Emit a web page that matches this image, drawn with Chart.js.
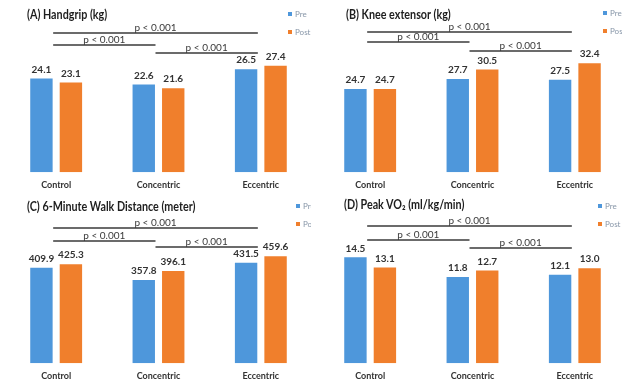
<!DOCTYPE html>
<html>
<head>
<meta charset="utf-8">
<script src="https://cdn.jsdelivr.net/npm/chart.js@4.4.1/dist/chart.umd.min.js"></script>
<style>
  body { margin: 0; background: #fff; }
  #wrap { position: relative; width: 622px; height: 383px; overflow: hidden; }
  .panel { position: absolute; width: 311px; height: 192px; overflow: hidden; }
  .panel canvas { position: absolute; left: 0; top: 0; }
  .title { position: absolute; font: bold 12.5px Lato, sans-serif; color: #1e1e1e; white-space: nowrap; transform: scaleX(0.86); transform-origin: 0 0; }
  .legend { position: absolute; font: 8px Lato, sans-serif; color: #8796a8; line-height: 10px; white-space: nowrap; }
  .legend span { display: inline-block; width: 4px; height: 4px; margin-right: 3px; vertical-align: 1px; }
  .legend div { margin-bottom: 8px; }
</style>
</head>
<body>
<div id="wrap">
  <div class="panel" style="left:0;top:0">
    <canvas id="chartA" width="320" height="199"></canvas>
    <div class="title" style="left:27px;top:7px">(A) Handgrip (kg)</div>
    <div class="legend" style="left:288px;top:9px"><div><span style="background:#4e97db"></span>Pre</div><div><span style="background:#f07f2c"></span>Post</div></div>
  </div>
  <div class="panel" style="left:311px;top:0">
    <canvas id="chartB" width="320" height="199"></canvas>
    <div class="title" style="left:35px;top:7px">(B) Knee extensor (kg)</div>
    <div class="legend" style="left:292px;top:8px"><div><span style="background:#4e97db"></span>Pre</div><div><span style="background:#f07f2c"></span>Post</div></div>
  </div>
  <div class="panel" style="left:0;top:191px">
    <canvas id="chartC" width="320" height="199"></canvas>
    <div class="title" style="left:27px;top:8px">(C) 6-Minute Walk Distance (meter)</div>
    <div class="legend" style="left:296px;top:10px"><div><span style="background:#4e97db"></span>Pre</div><div><span style="background:#f07f2c"></span>Post</div></div>
  </div>
  <div class="panel" style="left:311px;top:191px">
    <canvas id="chartD" width="320" height="199"></canvas>
    <div class="title" style="left:33px;top:6px">(D) Peak VO₂ (ml/kg/min)</div>
    <div class="legend" style="left:287px;top:10px"><div><span style="background:#4e97db"></span>Pre</div><div><span style="background:#f07f2c"></span>Post</div></div>
  </div>
</div>
<script>
const groups = ['Control', 'Concentric', 'Eccentric'];

const handgripPre = [24.1, 22.6, 26.5];
const handgripPost = [23.1, 21.6, 27.4];
const kneePre = [24.7, 27.7, 27.5];
const kneePost = [24.7, 30.5, 32.4];
const walkPre = [409.9, 357.8, 431.5];
const walkPost = [425.3, 396.1, 459.6];
const vo2Pre = [14.5, 11.8, 12.1];
const vo2Post = [13.1, 12.7, 13.0];

// pairwise comparisons drawn as lines above the bars
const comparisons = [[0, 2], [0, 1], [1, 2]];
const pLabels = ['p < 0.001', 'p < 0.001', 'p < 0.001'];

const preColor = '#4e97db';
const postColor = '#f07f2c';

const valueLabels = {
  id: 'valueLabels',
  afterDatasetsDraw(chart) {
    const ctx = chart.ctx;
    ctx.save();
    ctx.font = 'bold 10px Lato, sans-serif';
    ctx.fillStyle = '#333';
    ctx.textAlign = 'center';
    ctx.textBaseline = 'bottom';
    chart.data.datasets.forEach((ds, i) => {
      chart.getDatasetMeta(i).data.forEach((bar, j) => {
        ctx.fillText(ds.data[j].toFixed(1), bar.x, bar.y - 4);
      });
    });
    ctx.restore();
  }
};

const pBrackets = {
  id: 'pBrackets',
  afterDraw(chart, args, opts) {
    const ctx = chart.ctx;
    const x = chart.scales.x;
    ctx.save();
    ctx.strokeStyle = '#3a3a3a';
    ctx.lineWidth = 1.4;
    ctx.fillStyle = '#3a3a3a';
    ctx.font = '10px Lato, sans-serif';
    ctx.textAlign = 'center';
    ctx.textBaseline = 'bottom';
    comparisons.forEach((pair, k) => {
      const x1 = x.getPixelForValue(pair[0]) - 3;
      const x2 = x.getPixelForValue(pair[1]) - 3;
      const y = opts.levels[k];
      ctx.beginPath();
      ctx.moveTo(x1, y);
      ctx.lineTo(x2, y);
      ctx.stroke();
      ctx.fillText(pLabels[k], (x1 + x2) / 2, y);
    });
    ctx.restore();
  }
};

function makePanel(id, pre, post, yMax, padLeft, levels) {
  return new Chart(document.getElementById(id), {
    type: 'bar',
    data: {
      labels: groups,
      datasets: [
        { label: 'Pre', data: pre, backgroundColor: preColor },
        { label: 'Post', data: post, backgroundColor: postColor },
      ],
    },
    options: {
      responsive: false,
      animation: false,
      devicePixelRatio: 1,
      layout: { padding: { left: padLeft, right: 13 - padLeft, top: 2, bottom: 2 } },
      datasets: { bar: { barPercentage: 0.76, categoryPercentage: 0.576 } },
      scales: {
        x: {
          grid: { display: false, drawTicks: false },
          border: { display: false },
          ticks: { padding: 7, color: '#333', font: { family: 'Lato', size: 9, weight: 'bold' } },
        },
        y: { display: false, min: 0, max: yMax },
      },
      plugins: {
        legend: { display: false },
        tooltip: { enabled: false },
        pBrackets: { levels },
      },
    },
    plugins: [valueLabels, pBrackets],
  });
}

makePanel('chartA', handgripPre, handgripPost, 43.8, 5, [33, 45, 53]);
makePanel('chartB', kneePre, kneePost, 50.6, 8, [32, 42, 51]);
makePanel('chartC', walkPre, walkPost, 731, 5, [37, 50, 56]);
makePanel('chartD', vo2Pre, vo2Post, 23.3, 8, [35, 49, 57]);
</script>
</body>
</html>
